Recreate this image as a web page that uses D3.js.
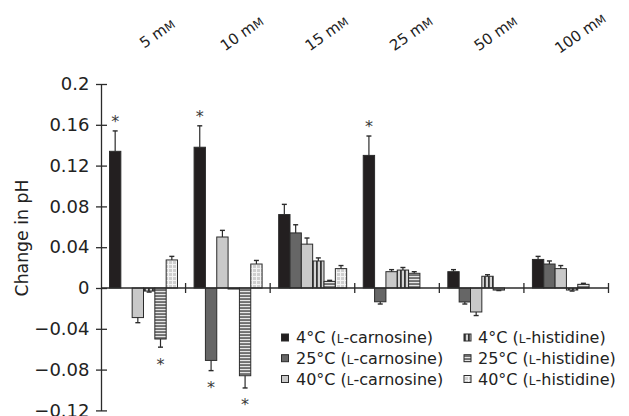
<!DOCTYPE html>
<html><head><meta charset="utf-8">
<script src="https://cdn.jsdelivr.net/npm/d3@7"></script>
<style>
html,body{margin:0;padding:0;background:#fff;}
svg{display:block;font-family:"DejaVu Sans",sans-serif;}
</style></head>
<body>
<svg id="chart" width="629" height="416"></svg>
<script>
// ---- data ----
const categories = ["5 mM", "10 mM", "15 mM", "25 mM", "50 mM", "100 mM"];
const seriesKeys = ["carn4", "carn25", "carn40", "his4", "his25", "his40"];
const seriesLabels = ["4°C (L-carnosine)", "25°C (L-carnosine)", "40°C (L-carnosine)",
                      "4°C (L-histidine)", "25°C (L-histidine)", "40°C (L-histidine)"];

const carn4     = [0.134, 0.138, 0.072, 0.130, 0.016, 0.028];
const carn4Err  = [0.020, 0.021, 0.010, 0.019, 0.002, 0.003];
const carn25    = [0.000, -0.071, 0.054, -0.0135, -0.0137, 0.0235];
const carn25Err = [0.000, 0.010, 0.008, 0.0022, 0.002, 0.003];
const carn40    = [-0.029, 0.050, 0.043, 0.016, -0.0235, 0.019];
const carn40Err = [0.005, 0.0065, 0.006, 0.002, 0.0035, 0.003];
const his4      = [-0.003, -0.001, 0.0265, 0.0176, 0.0115, -0.002];
const his4Err   = [0.001, 0.000, 0.003, 0.0025, 0.0015, 0.001];
const his25     = [-0.050, -0.086, 0.0065, 0.0144, -0.002, 0.0036];
const his25Err  = [0.008, 0.012, 0.001, 0.0016, 0.0005, 0.001];
const his40     = [0.0275, 0.0235, 0.019, 0, 0, 0];
const his40Err  = [0.0035, 0.0035, 0.003, 0, 0, 0];

// significance flags (asterisks)
const carn4Sig  = [1, 1, 0, 1, 0, 0];
const carn25Sig = [0, 1, 0, 0, 0, 0];
const his25Sig  = [1, 1, 0, 0, 0, 0];

const yTickValues = [-0.12, -0.08, -0.04, 0, 0.04, 0.08, 0.12, 0.16, 0.2];
const yTickLabels = ["\u22120.12", "\u22120.08", "\u22120.04", "0", "0.04", "0.08", "0.12", "0.16", "0.2"];

const valuesByKey = {carn4, carn25, carn40, his4, his25, his40};
const errByKey = {carn4: carn4Err, carn25: carn25Err, carn40: carn40Err, his4: his4Err, his25: his25Err, his40: his40Err};
const sigByKey = {carn4: carn4Sig, carn25: carn25Sig, his25: his25Sig};

// ---- drawing ----
const FONT = "DejaVu Sans, sans-serif";
const svg = d3.select("#chart");
const ink = "#2b2b2b";

const defs = svg.append("defs");
// vertical stripes
const pV = defs.append("pattern").attr("id", "pV").attr("patternUnits", "userSpaceOnUse")
  .attr("width", 4).attr("height", 4);
pV.append("rect").attr("width", 4).attr("height", 4).attr("fill", "#d4d4d4");
pV.append("rect").attr("x", 0).attr("width", 1.8).attr("height", 4).attr("fill", "#333");
// horizontal stripes
const pH = defs.append("pattern").attr("id", "pH").attr("patternUnits", "userSpaceOnUse")
  .attr("width", 4).attr("height", 3);
pH.append("rect").attr("width", 4).attr("height", 3).attr("fill", "#707070");
pH.append("rect").attr("y", 0).attr("width", 4).attr("height", 1.1).attr("fill", "#e6e6e6");
// grid
const pG = defs.append("pattern").attr("id", "pG").attr("patternUnits", "userSpaceOnUse")
  .attr("width", 4).attr("height", 4);
pG.append("rect").attr("width", 4).attr("height", 4).attr("fill", "#cfcfcf");
pG.append("rect").attr("width", 4).attr("height", 1).attr("fill", "#f4f4f4");
pG.append("rect").attr("width", 1).attr("height", 4).attr("fill", "#f4f4f4");

const fills = {carn4: "#231f20", carn25: "#666666", carn40: "#c9c9c9",
               his4: "url(#pV)", his25: "url(#pH)", his40: "url(#pG)"};

const y = d3.scaleLinear().domain([-0.12, 0.2]).range([410.4, 84]);
const x0 = d3.scaleBand().domain(categories).range([101, 608.5]).padding(0);
const x1 = d3.scaleBand().domain(seriesKeys).range([8.5, 76.5]).padding(0);

// bars
const rows = [];
categories.forEach((c, i) => {
  seriesKeys.forEach(k => {
    rows.push({cat: c, key: k, v: valuesByKey[k][i], e: errByKey[k][i],
               sig: sigByKey[k] ? sigByKey[k][i] : 0});
  });
});

const g = svg.append("g");
const bars = rows.filter(d => d.v !== 0);
g.selectAll("rect.bar").data(bars).join("rect")
  .attr("class", "bar")
  .attr("x", d => x0(d.cat) + x1(d.key))
  .attr("width", x1.bandwidth())
  .attr("y", d => y(Math.max(0, d.v)))
  .attr("height", d => Math.abs(y(d.v) - y(0)))
  .attr("fill", d => fills[d.key])
  .attr("stroke", ink).attr("stroke-width", 1);

// error bars
const eb = bars.filter(d => d.e > 0);
const cx = d => x0(d.cat) + x1(d.key) + x1.bandwidth() / 2;
const eEnd = d => d.v >= 0 ? d.v + d.e : d.v - d.e;
g.selectAll("line.err").data(eb).join("line").attr("class", "err")
  .attr("x1", cx).attr("x2", cx)
  .attr("y1", d => y(d.v)).attr("y2", d => y(eEnd(d)))
  .attr("stroke", ink).attr("stroke-width", 1.2);
g.selectAll("line.cap").data(eb).join("line").attr("class", "cap")
  .attr("x1", d => cx(d) - 2.5).attr("x2", d => cx(d) + 2.5)
  .attr("y1", d => y(eEnd(d))).attr("y2", d => y(eEnd(d)))
  .attr("stroke", ink).attr("stroke-width", 1.4);

// asterisks
g.selectAll("text.sig").data(rows.filter(d => d.sig)).join("text").attr("class", "sig")
  .attr("x", cx)
  .attr("y", d => (d.v >= 0 ? y(eEnd(d)) - 13 : y(eEnd(d)) + 13) + 9.4)
  .attr("text-anchor", "middle")
  .attr("font-family", FONT)
  .attr("font-size", 16).attr("fill", "#3a3a3a")
  .text("*");

// x axis line at zero + group separators
svg.append("line").attr("x1", x0.range()[0]).attr("x2", x0.range()[1])
  .attr("y1", y(0)).attr("y2", y(0)).attr("stroke", ink).attr("stroke-width", 1.3);
svg.selectAll("line.sep").data(categories).join("line").attr("class", "sep")
  .attr("x1", c => x0(c) + x0.bandwidth()).attr("x2", c => x0(c) + x0.bandwidth())
  .attr("y1", y(0) - 5).attr("y2", y(0) + 5)
  .attr("stroke", ink).attr("stroke-width", 1.3);

// y axis
const yAxis = d3.axisLeft(y).tickValues(yTickValues)
  .tickFormat((d, i) => yTickLabels[i]).tickSizeInner(5).tickSizeOuter(0).tickPadding(6.5);
const ya = svg.append("g").attr("transform", "translate(101,0)").call(yAxis);
ya.attr("font-family", FONT).attr("font-size", 18);
ya.select(".domain").attr("stroke", ink).attr("stroke-width", 1.3);
ya.selectAll(".tick line").attr("stroke", ink).attr("stroke-width", 1.3).attr("x2", -5).attr("x1", 6);
ya.selectAll(".tick text").attr("font-size", 18).attr("font-family", FONT)
  .attr("fill", "#222");

// y title
svg.append("text").attr("transform", "translate(28,238) rotate(-90)")
  .attr("text-anchor", "middle").attr("font-family", FONT)
  .attr("font-size", 17.3).attr("fill", "#222")
  .text("Change in pH");

// category labels (rotated with an explicit matrix)
const ang = -35 * Math.PI / 180;
const ca = Math.cos(ang), sa = Math.sin(ang);
const cl = svg.selectAll("text.cat").data(categories).join("text").attr("class", "cat")
  .attr("transform", c => {
    const tx = x0(c) + x0.bandwidth() / 2 + 17, ty = 37.5;
    return "matrix(" + [ca, sa, -sa, ca, tx, ty].map(v => v.toFixed(4)).join(",") + ")";
  })
  .attr("text-anchor", "middle").attr("font-family", FONT)
  .attr("font-size", 15).attr("fill", "#222");
cl.each(function(c) {
  const t = d3.select(this);
  const parts = c.split(" ");
  t.append("tspan").text(parts[0] + " m");
  t.append("tspan").attr("font-size", 11.5).text("M");
});

// legend
const legPos = [[281.5, 296, 337.5], [281.5, 296, 358.2], [281.5, 296, 379],
                [464, 478, 337.5], [464, 478, 358.2], [464, 478, 379]];
const lg = svg.append("g");
seriesKeys.forEach((k, i) => {
  const [sx, tx, ty] = legPos[i];
  lg.append("rect").attr("x", sx).attr("y", ty - 3.5).attr("width", 7).attr("height", 7)
    .attr("fill", fills[k]).attr("stroke", ink).attr("stroke-width", 1);
  const lab = seriesLabels[i];
  const idx = lab.indexOf("(L-");
  const t = lg.append("text").attr("x", tx).attr("y", ty).attr("dy", "0.36em")
    .attr("font-family", FONT)
    .attr("font-size", 16).attr("fill", "#222");
  t.append("tspan").text(lab.slice(0, idx + 1));
  t.append("tspan").attr("font-size", 12).text("L");
  t.append("tspan").text(lab.slice(idx + 2));
});
</script>
</body></html>
